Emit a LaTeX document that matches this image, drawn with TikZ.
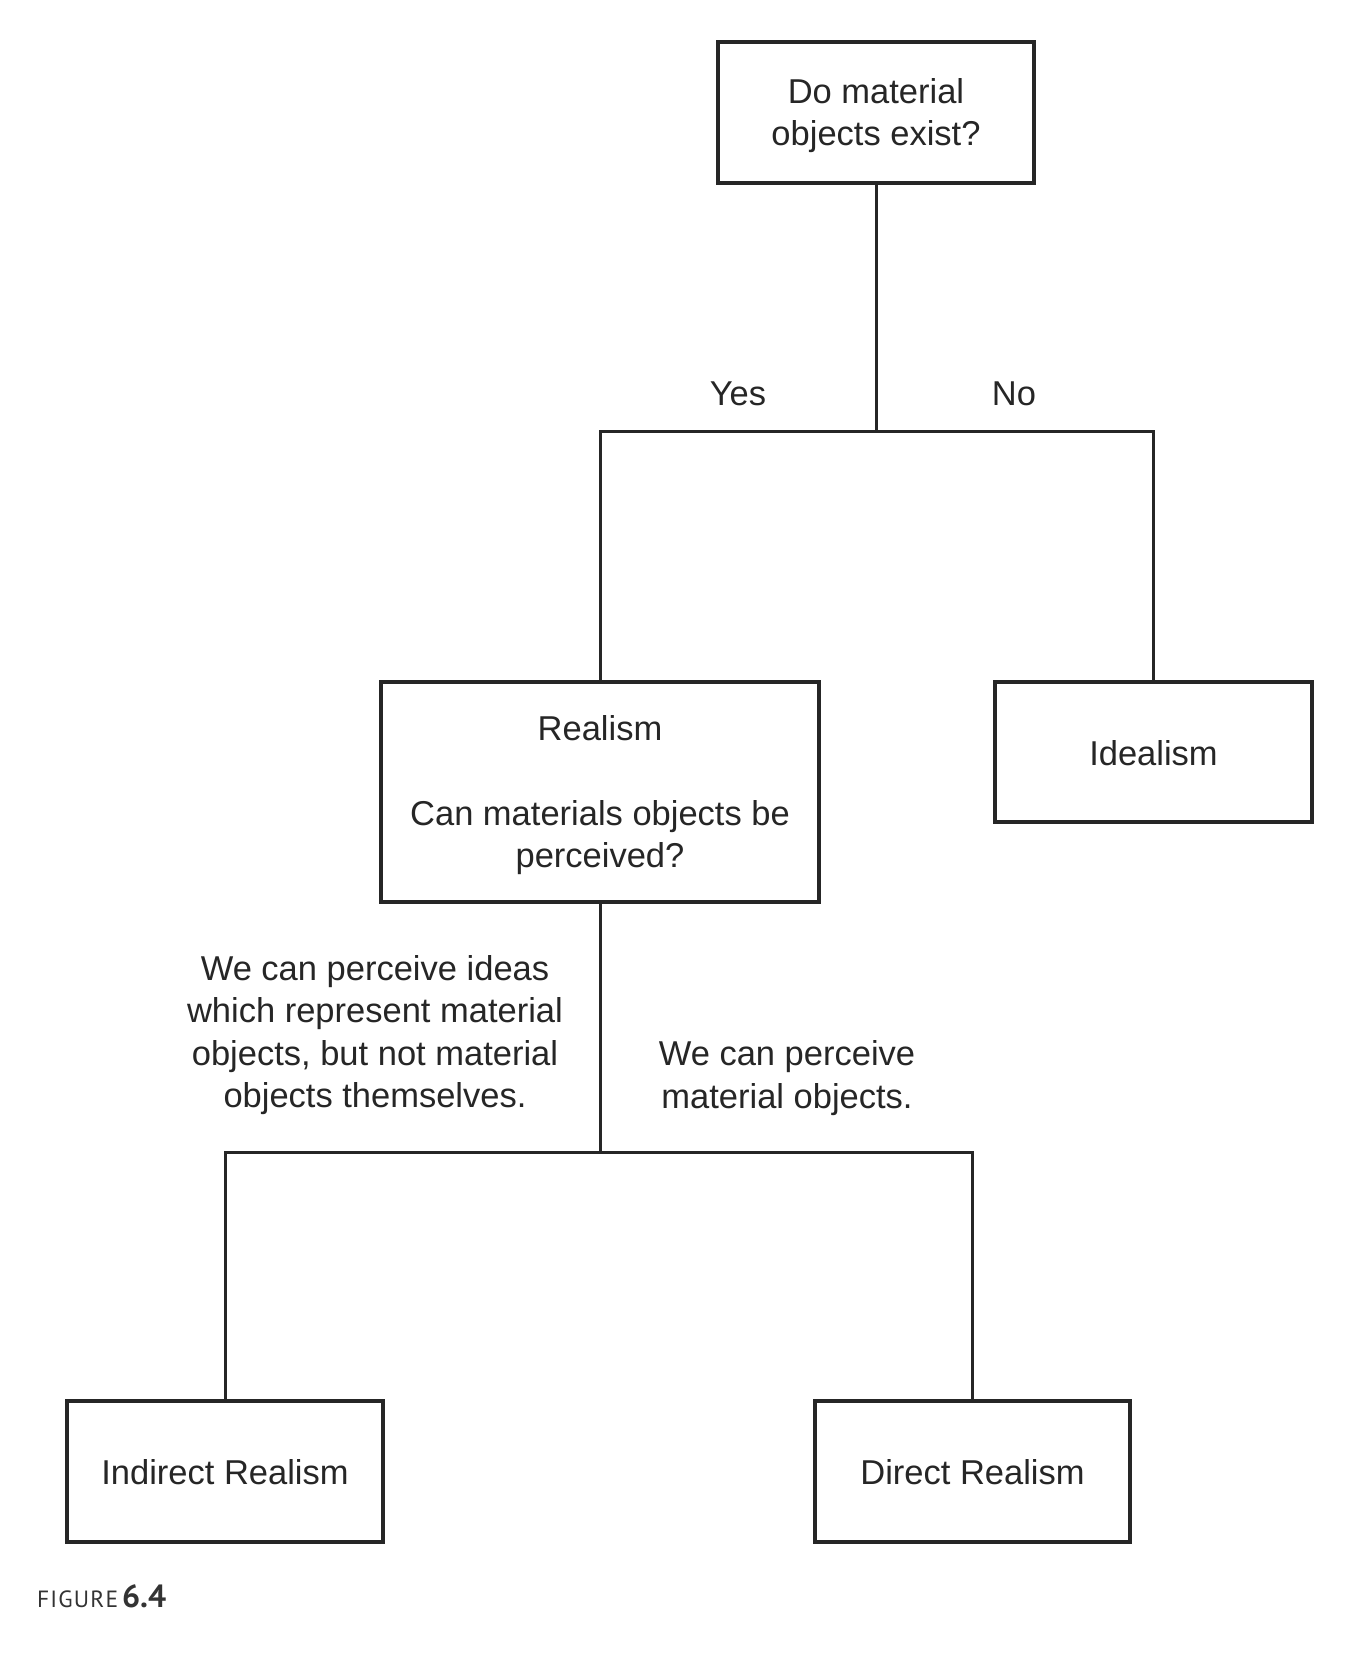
\documentclass[tikz,border=0pt]{standalone}
\usepackage{fontspec}
\setmainfont{Liberation Sans}
\newfontfamily\capfont{PT Sans}
\newfontfamily\capfontwide[LetterSpace=5]{PT Sans}
\begin{document}
\begin{tikzpicture}[x=1pt,y=-1pt,
  every node/.style={inner sep=0pt, outer sep=0pt, text=black!85},
  txt/.style={font=\fontsize{34.5}{42.5}\selectfont, align=center},
  box/.style={draw=black!85, line width=3.2pt, fill=white},
  link/.style={draw=black!85, line width=3pt}]
  \useasboundingbox[fill=white] (0,0) rectangle (1364,1666);

  % boxes
  \node[box, minimum width=316pt, minimum height=141pt] (top) at (876,112.5) {};
  \node[box, minimum width=438pt, minimum height=220pt] (real) at (600,792) {};
  \node[box, minimum width=317pt, minimum height=140pt] (ideal) at (1153.5,752) {};
  \node[box, minimum width=316pt, minimum height=141pt] (ind) at (225,1471.5) {};
  \node[box, minimum width=315pt, minimum height=141pt] (dir) at (972.5,1471.5) {};

  % box texts, set a little below the geometric centre
  \node[txt] (topt) at ([yshift=-3pt]top.center) {Do material\\objects exist?};
  \node[txt] (realt) at ([yshift=-3pt]real.center)
    {Realism\\[42.5pt]Can materials objects be\\perceived?};
  \node[txt] (idealt) at ([yshift=-1pt]ideal.center) {Idealism};
  \node[txt] (indt) at ([yshift=-1pt]ind.center) {Indirect Realism};
  \node[txt] (dirt) at ([yshift=-1pt]dir.center) {Direct Realism};

  % junction points
  \coordinate (j1) at (876,431);
  \coordinate (j2) at (600,1152);

  % connectors
  \draw[link] (top.south) -- (j1);
  \draw[link] (real.north) -- (real.north |- j1) -- (ideal.north |- j1) -- (ideal.north);
  \draw[link] (real.south) -- (j2);
  \draw[link] (ind.north) -- (ind.north |- j2) -- (dir.north |- j2) -- (dir.north);

  % branch labels
  \node[txt] (yes) at (738,394) {Yes};
  \node[txt] (no) at (1014,394) {No};
  \node[txt] (lind) at (375,1035)
    {We can perceive ideas\\which represent material\\objects, but not material\\objects themselves.};
  \node[txt] (ldir) at (787,1078)
    {We can perceive\\material objects.};

  % caption
  \node[anchor=base west, text=black!80] (cap) at (37,1607)
    {\capfontwide\fontsize{23.5}{26}\selectfont FIGURE\,\capfont\fontsize{32}{34}\selectfont\bfseries 6.4};
\end{tikzpicture}
\end{document}
